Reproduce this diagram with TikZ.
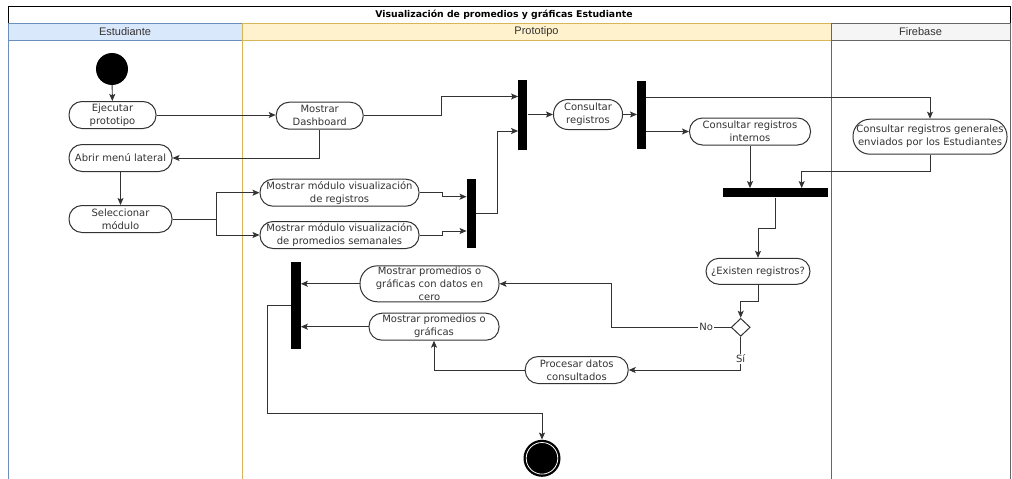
\documentclass[tikz,border=0pt]{standalone}
\usepackage{fontspec}
\setmainfont{DejaVu Sans}
\newfontfamily\lanefont{Liberation Sans}
\usetikzlibrary{shapes.geometric,arrows.meta}
\definecolor{ink}{HTML}{333333}
\definecolor{estFill}{HTML}{DAE8FC}
\definecolor{estLine}{HTML}{6C8EBF}
\definecolor{proFill}{HTML}{FFF2CC}
\definecolor{proLine}{HTML}{D6B656}
\definecolor{fbFill}{HTML}{F5F5F5}
\definecolor{fbLine}{HTML}{666666}
\tikzset{
  act/.style={draw=ink, fill=white, line width=1pt, align=center, inner sep=0pt, text=ink,
    font=\fontsize{10}{13}\selectfont, rounded corners=13pt, minimum height=27pt},
  bar/.style={fill=black, draw=none, inner sep=0pt},
  flow/.style={draw=ink, line width=0.95pt,
    -{Stealth[length=7pt,width=6pt,inset=1.5pt]}},
  lbl/.style={fill=white, inner sep=1pt, text=ink, font=\fontsize{10}{12}\selectfont},
  lanehead/.style={font=\lanefont\fontsize{11}{13}\selectfont, text=ink}
}
\begin{document}
\begin{tikzpicture}[x=1pt,y=-1pt]
\useasboundingbox (0,0) rectangle (1012,479);

% pool title
\draw[black, line width=0.9pt, fill=white] (8,6) rectangle (1010,23.3);
\node[font=\bfseries\fontsize{9.3}{11}\selectfont] (title) at (504,14.6)
  {Visualización de promedios y gráficas Estudiante};

% lanes
\draw[estLine, line width=0.9pt] (8,23.3) rectangle (242,490);
\draw[estLine, line width=0.9pt, fill=estFill] (8,23.3) rectangle (242,40.7);
\draw[proLine, line width=0.9pt] (242,23.3) rectangle (831,490);
\draw[proLine, line width=0.9pt, fill=proFill] (242,23.3) rectangle (831,40.7);
\draw[fbLine, line width=0.9pt] (831,23.3) rectangle (1010,490);
\draw[fbLine, line width=0.9pt, fill=fbFill] (831,23.3) rectangle (1010,40.7);
\node[lanehead] (hEst) at (125,32) {Estudiante};
\node[lanehead] (hPro) at (536.5,32) {Prototipo};
\node[lanehead] (hFb) at (920.5,32) {Firebase};

% activities
\node[circle, fill=black, minimum size=32pt, inner sep=0pt] (start) at (112,69) {};
\node[act, minimum width=87pt] (ejec) at (112.5,115) {Ejecutar\\prototipo};
\node[act, minimum width=103pt] (menu) at (120.5,158) {Abrir menú lateral};
\node[act, minimum width=103pt] (sel) at (120.5,219) {Seleccionar\\módulo};
\node[act, minimum width=87pt] (dash) at (319.7,115.7) {Mostrar\\Dashboard};
\node[act, minimum width=159pt] (modreg) at (339.5,192.7) {Mostrar módulo visualización\\de registros};
\node[act, minimum width=159pt] (modprom) at (339.5,235) {Mostrar módulo visualización\\de promedios semanales};
\node[bar, minimum width=9.5pt, minimum height=69pt] (bar1) at (471.5,213.8) {};
\node[bar, minimum width=9pt, minimum height=70pt] (bar2) at (522.8,114.5) {};
\node[act, minimum width=69pt, minimum height=30pt, rounded corners=14.5pt] (consreg) at (588,114.5) {Consultar\\registros};
\node[bar, minimum width=9pt, minimum height=68pt] (bar3) at (641.7,114.5) {};
\node[act, minimum width=121pt] (consint) at (750,131.5) {Consultar registros\\internos};
\node[act, minimum width=154pt, minimum height=35pt, rounded corners=17pt] (consgen) at (930,136.7) {Consultar registros generales\\enviados por los Estudiantes};
\node[bar, minimum width=104.7pt, minimum height=9pt] (bar4) at (775.7,192.8) {};
\node[act, minimum width=104pt, minimum height=26pt] (exist) at (758,271.3) {¿Existen registros?};
\node[diamond, draw=ink, fill=white, line width=1pt, minimum width=19pt, minimum height=18pt, inner sep=0pt] (dec) at (740.7,327.3) {};
\node[act, minimum width=103pt] (proc) at (576.7,370) {Procesar datos\\consultados};
\node[act, minimum width=139pt, minimum height=36pt, rounded corners=17.5pt] (cero) at (429.5,283.8) {Mostrar promedios o\\gráficas con datos en\\cero};
\node[act, minimum width=130pt] (prom) at (434,326.7) {Mostrar promedios o\\gráficas};
\node[bar, minimum width=9.7pt, minimum height=87pt] (bar5) at (295.8,305.3) {};
\node[circle, fill=black, minimum size=37pt, inner sep=0pt] (fin) at (542,458.3) {};
\draw[white, line width=0.8pt] (fin.center) circle (15.8pt);

% flows
\draw[flow] (start) -- (ejec);
\draw[flow] (ejec) -- (ejec.east -| dash.west);
\draw[flow] (dash.south) |- (menu.east);
\draw[flow] (menu) -- (sel);
\draw[flow] (sel.east) -- ++(44,0) |- (modreg.west);
\draw[flow] (sel.east) -- ++(44,0) |- (modprom.west);
\draw[flow] (modreg.east) -- ++(23,0) |- ([yshift=-4pt]modreg.east -| bar1.west);
\draw[flow] (modprom.east) -- ++(23,0) |- ([yshift=4pt]modprom.east -| bar1.west);
\draw[flow] (bar1.east) -- ++(21,0) |- ([yshift=-16.5pt]bar2.west);
\draw[flow] (dash.east) -- ++(78,0) |- ([yshift=18pt]bar2.west);
\draw[flow] (bar2.east) -- (consreg.west);
\draw[flow] (consreg.east) -- (bar3.west);
\draw[flow] ([yshift=17pt]bar3.east) -| (consgen.north);
\draw[flow] ([yshift=-17pt]bar3.east) -- (consint.west);
\draw[flow] (consint.south) -- (consint.south |- bar4.north);
\draw[flow] (consgen.south) -- ++(0,16.7) -| ([xshift=26pt]bar4.north);
\draw[flow] (bar4.south) -- ++(0,31) -| (exist.north);
\draw[flow] (exist.south) -- ++(0,17) -| (dec.north);
\draw[flow] (dec.west) -- node[lbl, pos=0.205] {No} ++(-119.5,0) |- (cero.east);
\draw[flow] (dec.south) |- node[lbl, pos=0.33] {Sí} (proc.east);
\draw[flow] (proc.west) -| (prom.south);
\draw[flow] (cero.west) -- (cero.west -| bar5.east);
\draw[flow] (prom.west) -- (prom.west -| bar5.east);
\draw[flow] (bar5.west) -- ++(-23.3,0) -- ++(0,108) -| (fin.north);
\end{tikzpicture}
\end{document}
